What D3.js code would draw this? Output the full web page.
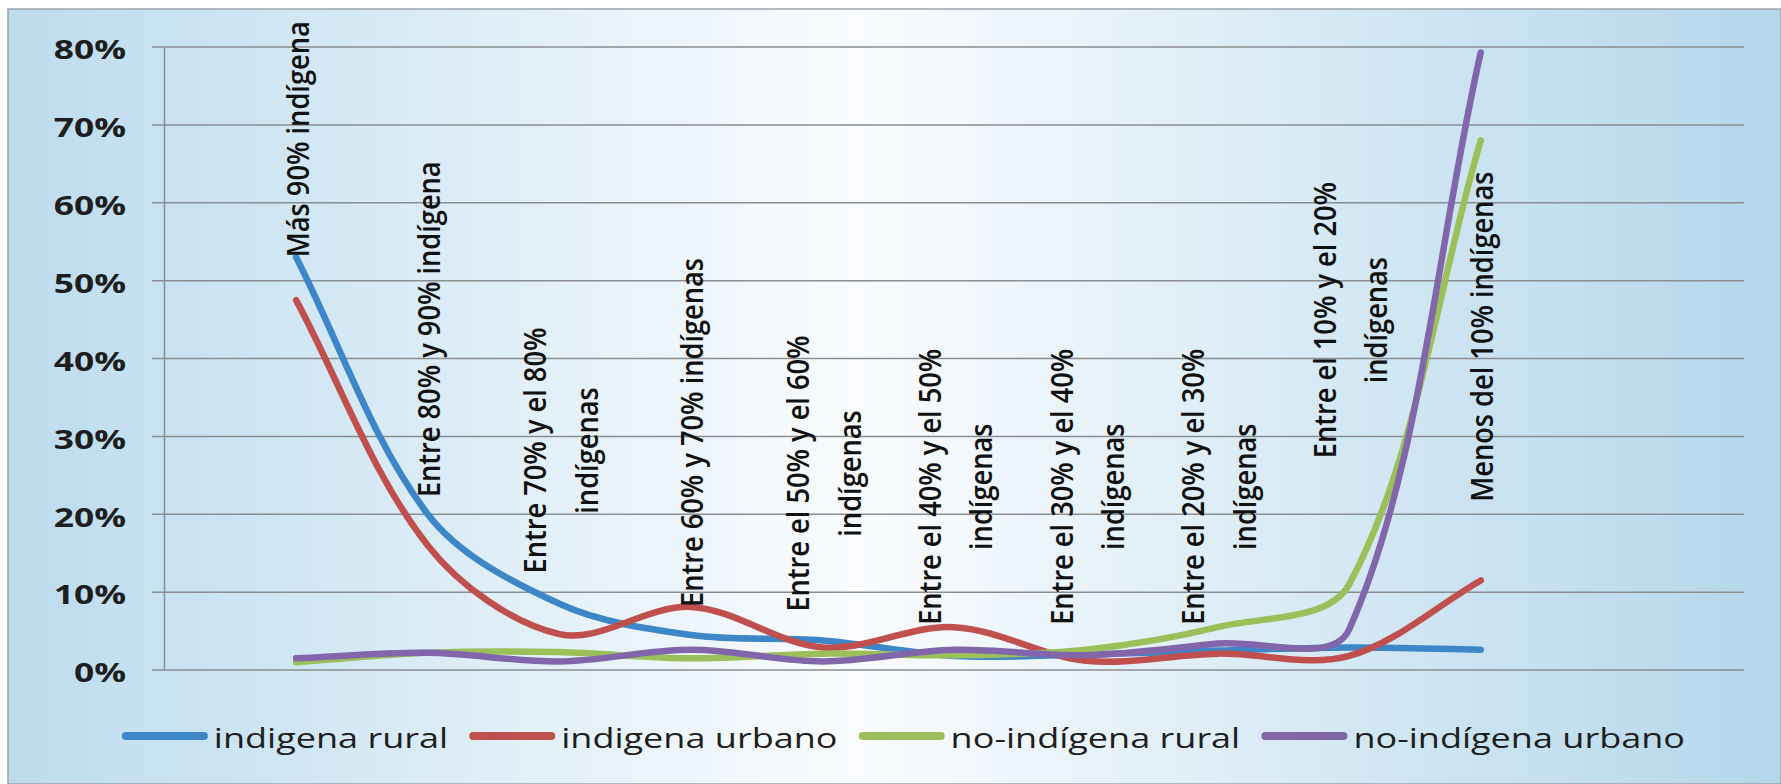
<!DOCTYPE html>
<html><head><meta charset="utf-8">
<script src="https://cdn.jsdelivr.net/npm/d3@7"></script>
<style>body{margin:0;background:#fff;} svg{display:block;}</style>
</head><body><svg id="c" width="1781" height="784"></svg>
<script>
// ---------- data ----------
const categories = [
  ["Más 90% indígena"],
  ["Entre 80% y 90% indígena"],
  ["Entre 70% y el 80%", "indígenas"],
  ["Entre 60% y 70% indígenas"],
  ["Entre el 50% y el 60%", "indígenas"],
  ["Entre el 40% y el 50%", "indígenas"],
  ["Entre el 30% y el 40%", "indígenas"],
  ["Entre el 20% y el 30%", "indígenas"],
  ["Entre el 10% y el 20%", "indígenas"],
  ["Menos del 10% indígenas"]
];
const seriesNames = ["indigena rural", "indigena urbano", "no-indígena rural", "no-indígena urbano"];
const indigenaRural    = [53.0, 20.0, 8.5, 4.5, 3.8, 1.8, 2.0, 2.5, 2.9, 2.6];
const indigenaUrbano   = [47.5, 16.0, 4.6, 8.1, 2.9, 5.5, 1.2, 2.1, 1.8, 11.5];
const noIndigenaRural  = [1.0, 2.2, 2.3, 1.5, 2.1, 1.9, 2.6, 5.5, 11.0, 68.0];
const noIndigenaUrbano = [1.5, 2.2, 1.1, 2.6, 1.1, 2.6, 1.9, 3.4, 5.2, 79.3];
const yTicks = [0, 10, 20, 30, 40, 50, 60, 70, 80];
// value level (in %) where each category label starts (its bottom edge)
const labelBase = [53.0, 22.2, 12.4, 8.1, 7.5, 5.8, 5.8, 5.8, 27.2, 21.6];

const seriesValues = [indigenaRural, indigenaUrbano, noIndigenaRural, noIndigenaUrbano];
const colors = ["#3d86c8", "#c0504d", "#9bc05a", "#8266ac"];

// ---------- layout ----------
const W = 1781, H = 784;
const svg = d3.select("#c");
const defs = svg.append("defs");
const grad = defs.append("linearGradient").attr("id", "bg").attr("x1", "0").attr("x2", "1").attr("y1", "0").attr("y2", "0");
grad.append("stop").attr("offset", "0").attr("stop-color", "#bcdcee");
grad.append("stop").attr("offset", "0.48").attr("stop-color", "#fafcfe");
grad.append("stop").attr("offset", "1").attr("stop-color", "#b3d7eb");

svg.append("rect").attr("x", 8).attr("y", 9).attr("width", W - 8).attr("height", H - 9)
  .attr("fill", "url(#bg)").attr("stroke", "#9ba5ab").attr("stroke-width", 1.5);

const x = d3.scaleLinear().domain([-1, 11]).range([164.5, 1744]);
const y = d3.scaleLinear().domain([0, 80]).range([670, 47]);

// gridlines
const grid = svg.append("g");
grid.selectAll("line").data(yTicks).join("line")
  .attr("x1", 152).attr("x2", 1744)
  .attr("y1", d => y(d)).attr("y2", d => y(d))
  .attr("stroke", "#8a8e91").attr("stroke-width", 1.5);
// y axis line
svg.append("line").attr("x1", 164.5).attr("x2", 164.5).attr("y1", y(80)).attr("y2", y(0))
  .attr("stroke", "#8a8e91").attr("stroke-width", 1.5);

// y tick labels
svg.append("g").selectAll("text").data(yTicks).join("text")
  .attr("transform", d => `translate(126,${y(d) + 12.3}) scale(1.31,1)`)
  .attr("text-anchor", "end")
  .attr("font-family", "Open Sans")
  .attr("font-weight", 700)
  .attr("font-size", 27)
  .attr("fill", "#1e1e1e")
  .text(d => d + "%");

// ---------- Excel-like smoothing curve ----------
function ExcelSmooth(context) { this._context = context; }
ExcelSmooth.prototype = {
  areaStart() {}, areaEnd() {},
  lineStart() { this._pts = []; },
  point(px, py) { this._pts.push([+px, +py]); },
  lineEnd() {
    const p = this._pts, n = p.length, c = this._context;
    if (!n) return;
    c.moveTo(p[0][0], p[0][1]);
    if (n === 2) { c.lineTo(p[1][0], p[1][1]); return; }
    const dist = (a, b) => Math.hypot(b[0] - a[0], b[1] - a[1]);
    for (let i = 0; i < n - 1; i++) {
      const p0 = p[Math.max(i - 1, 0)], p1 = p[i], p2 = p[i + 1], p3 = p[Math.min(i + 2, n - 1)];
      const d01 = dist(p0, p1), d12 = dist(p1, p2), d23 = dist(p2, p3);
      const f1 = d01 + d12 > 0 ? d12 / (d01 + d12) / 3 : 0;
      const f2 = d12 + d23 > 0 ? d12 / (d12 + d23) / 3 : 0;
      c.bezierCurveTo(
        p1[0] + (p2[0] - p0[0]) * f1, p1[1] + (p2[1] - p0[1]) * f1,
        p2[0] - (p3[0] - p1[0]) * f2, p2[1] - (p3[1] - p1[1]) * f2,
        p2[0], p2[1]);
    }
  }
};
const curveExcel = ctx => new ExcelSmooth(ctx);

const line = d3.line().x((d, i) => x(i)).y(d => y(d)).curve(curveExcel);

svg.append("g").selectAll("path").data(seriesValues).join("path")
  .attr("d", d => line(d))
  .attr("fill", "none")
  .attr("stroke", (d, i) => colors[i])
  .attr("stroke-width", 6.5)
  .attr("stroke-linecap", "round")
  .attr("stroke-linejoin", "round");

// ---------- category labels (rotated) ----------
const LF = 27.2, LS = 45.5, LSX = 1.13, LSHIFT = 4.5;
const labG = svg.append("g");
categories.forEach((lines, i) => {
  const g = labG.append("g")
    .attr("transform", `translate(${x(i) + LSHIFT},${y(labelBase[i])}) scale(${LSX},1) rotate(-90)`);
  const texts = lines.map((t, j) => g.append("text")
    .attr("font-family", "Open Sans")
    .attr("font-size", LF)
    .attr("font-weight", 600)
    .attr("fill", "#111")
    .attr("text-anchor", "middle")
    .text(t));
  const maxLen = d3.max(texts, t => t.node().getComputedTextLength());
  const n = lines.length;
  const b0 = 0.26 * LF - (n - 1) * LS / 2;
  texts.forEach((t, j) => t.attr("x", maxLen / 2).attr("y", b0 + j * LS));
});

// ---------- legend ----------
const SW = 86, GAP1 = 6, GAP2 = 21, LSX2 = 1.335, LCX = 903.5;
const leg = svg.append("g");
const items = seriesNames.map((name, i) => {
  const t = leg.append("text")
    .attr("font-family", "Open Sans")
    .attr("font-size", 27)
    .attr("font-weight", 500)
    .attr("fill", "#1e1e1e")
    .text(name);
  return { t, w: t.node().getComputedTextLength() * LSX2, i };
});
const total = d3.sum(items, d => SW + GAP1 + d.w) + GAP2 * (items.length - 1);
let cx = LCX - total / 2;
items.forEach(d => {
  leg.append("line").attr("x1", cx + 4).attr("x2", cx + SW - 4)
    .attr("y1", 736).attr("y2", 736)
    .attr("stroke", colors[d.i]).attr("stroke-width", 8).attr("stroke-linecap", "round");
  d.t.attr("transform", `translate(${cx + SW + GAP1},748) scale(${LSX2},1)`);
  cx += SW + GAP1 + d.w + GAP2;
});
</script>
</body></html>
